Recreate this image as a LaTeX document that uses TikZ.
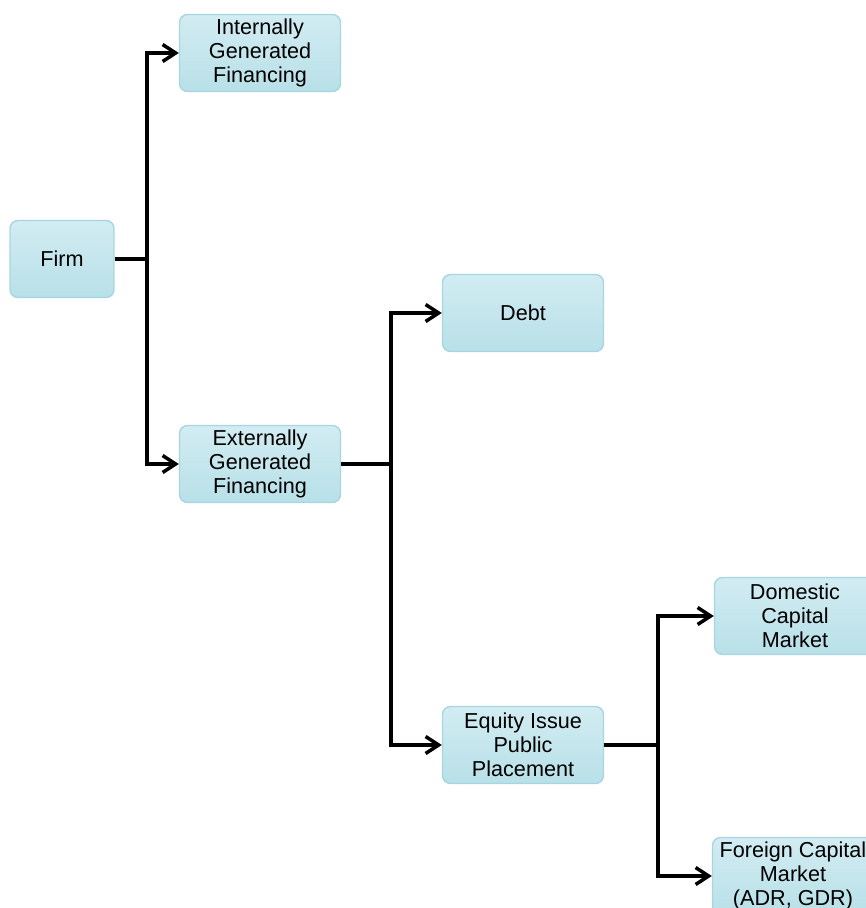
\documentclass[tikz,border=0pt]{standalone}
\usepackage{fontspec}
\setmainfont{Liberation Sans}
\usetikzlibrary{arrows.meta,calc}

\begin{document}
\begin{tikzpicture}[x=0.02cm, y=-0.02cm,
  box/.style={rounded corners=0.16cm, draw={rgb,255:red,168; green,214; blue,224}, line width=0.8pt,
    top color={rgb,255:red,210; green,236; blue,242}, bottom color={rgb,255:red,184; green,224; blue,232},
    minimum width=3.22cm, minimum height=1.54cm, align=center, inner sep=1pt,
    font=\fontsize{12.3}{13.6}\selectfont},
  link/.style={color=black, line width=2.1pt},
  linkarrow/.style={link, -{Straight Barb[length=0.26cm, width=0.34cm, line width=2pt]}}]
%
\useasboundingbox (0,0) rectangle (865,908);
% Boxes
\node[box, minimum width=2.08cm] (firm) at (62,259) {Firm};
\node[box] (intl) at (260,53) {Internally\\Generated\\Financing};
\node[box] (extl) at (260,464) {Externally\\Generated\\Financing};
\node[box] (debt) at (523,313) {Debt};
\node[box] (equity) at (523,745) {Equity Issue\\Public\\Placement};
\node[box] (domestic) at (795,616) {Domestic\\Capital\\Market};
\node[box] (foreign) at (793,876) {Foreign Capital\\Market\\(ADR, GDR)};
%Segment 1
\draw[link] (firm.east) -- (147,259) coordinate (j1);
\draw[linkarrow] (j1) |- (intl.west);
\draw[linkarrow] (j1) |- (extl.west);
%Segment 2
\draw[link] (extl.east) -- (391,464) coordinate (j2);
\draw[linkarrow] (j2) |- (debt.west);
\draw[linkarrow] (j2) |- (equity.west);
%Segment 3
\draw[link] (equity.east) -- (658,745) coordinate (j3);
\draw[linkarrow] (j3) |- (domestic.west);
\draw[linkarrow] (j3) |- (foreign.west);
\end{tikzpicture}
\end{document}
